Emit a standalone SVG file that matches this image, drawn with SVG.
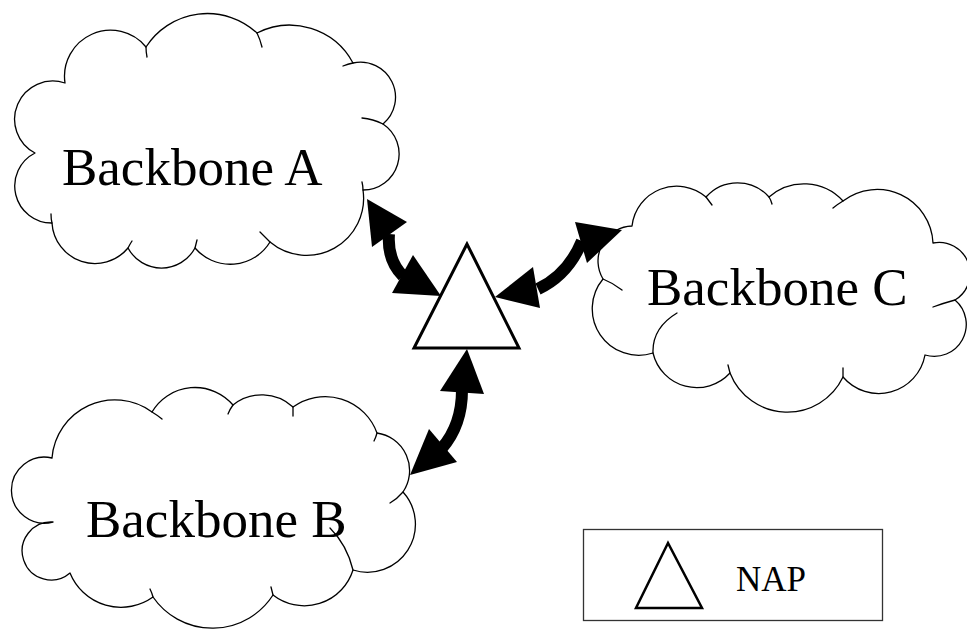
<svg xmlns="http://www.w3.org/2000/svg" width="967" height="630" viewBox="0 0 967 630">
  <style>
    .cloud { fill: #ffffff; stroke: #000000; stroke-width: 1.3; stroke-linejoin: round; }
    .stub { fill: none; stroke: #000000; stroke-width: 1.3; stroke-linecap: round; }
    .label { font-family: "Liberation Serif", "Times New Roman", serif; fill: #000000; }
    .big { font-size: 53px; }
    .nap { fill: #ffffff; stroke: #000000; stroke-width: 3; stroke-linejoin: miter; }
    .shaft { fill: none; stroke: #000000; stroke-width: 12; }
    .head { fill: #000000; stroke: none; }
  </style>

  <rect x="0" y="0" width="967" height="630" fill="#ffffff"/>

  <!-- Backbone A -->
  <g id="backbone-a">
    <path class="cloud" d="M65 83 A46 46 0 0 1 146 47 A73 73 0 0 1 257 33 A72 72 0 0 1 353 63 A35 35 0 0 1 383 124 A36 36 0 0 1 363 190 A57 57 0 0 1 270 242 A46.5 46.5 0 0 1 195 248 A38 38 0 0 1 128 248 A43 43 0 0 1 52 223 A37 37 0 0 1 35 153 A38.2 38.2 0 0 1 65 83 Z"/>
    <path class="stub" d="M146 47 q0 5 1 10 M257 33 q3 6 5 14 M353 63 q-5 1 -10 3 M383 124 q-10 -5 -21 -6 M363 190 q0 -4 -1 -8 M270 242 q-5 -5 -10 -10 M195 248 q1 -4 2 -8 M128 248 q2 -4 4 -7 M52 223 q-1 -4 -1 -9"/>
    <text class="label big" x="62" y="185">Backbone A</text>
  </g>

  <!-- Backbone B -->
  <g id="backbone-b">
    <path class="cloud" d="M52 458 A63 63 0 0 1 152 412 A50 50 0 0 1 233 405 A46 46 0 0 1 293 407 A55 55 0 0 1 377 433 A38 38 0 0 1 403 492 A48 48 0 0 1 353 570 A51 51 0 0 1 273 595 A72 72 0 0 1 153 597 A55 55 0 0 1 70 573 A29 29 0 1 1 53 522 A33 33 0 1 1 52 458 Z"/>
    <path class="stub" d="M152 412 q5 3 10 7 M233 405 q-3 4 -5 9 M293 407 q0 5 0 9 M377 433 q-1 4 -3 8 M403 492 q-6 7 -13 11 M353 570 Q347 545 330 528 M273 595 q-1 -4 -2 -8 M153 597 q-1 -4 -3 -8"/>
    <text class="label big" x="86" y="537">Backbone B</text>
  </g>

  <!-- Backbone C -->
  <g id="backbone-c">
    <path class="cloud" d="M632 226 A45 45 0 0 1 706 197 A42 42 0 0 1 769 197 A53 53 0 0 1 843 201 A56 56 0 0 1 933 243 A31 31 0 0 1 955 300 A32 32 0 0 1 925 355 A47 47 0 0 1 843 377 A61.6 61.6 0 0 1 730 373 A45 45 0 0 1 653 353 A46.5 46.5 0 0 1 603 279 A35 35 0 0 1 632 226 Z"/>
    <path class="stub" d="M706 197 q3 4 6 8 M769 197 q2 3 3 7 M843 201 q-5 3 -10 7 M955 300 q-11 3 -22 7 M843 377 q0 -4 0 -9 M730 373 q-1 -4 -2 -8 M653 353 Q652 328 677 313 M603 279 q10 4 19 11"/>
    <text class="label big" x="647" y="305">Backbone C</text>
  </g>

  <!-- NAP -->
  <g id="nap">
    <polygon class="nap" points="467,244 414,348 519,348"/>
  </g>

  <!-- Connectors -->
  <g id="connectors">
    <path class="shaft" d="M389 234 Q387 260 403 276"/>
    <polygon class="head" points="367,199 407,222 372,247"/>
    <polygon class="head" points="441,296 392,293 413,255"/>

    <path class="shaft" d="M538 289 Q568 275 582 241"/>
    <polygon class="head" points="495,297 533,267 540,308"/>
    <polygon class="head" points="622,230 575,222 587,263"/>

    <path class="shaft" d="M462 390 Q462 425 442 448"/>
    <polygon class="head" points="467,349 440,391 484,394"/>
    <polygon class="head" points="410,475 429,429 457,462"/>
  </g>

  <!-- Legend -->
  <g id="legend">
    <rect x="583.5" y="529.5" width="299" height="91" fill="#ffffff" stroke="#333333" stroke-width="1.3"/>
    <polygon points="668,543 636,608 702,608" fill="#ffffff" stroke="#000000" stroke-width="2.5"/>
    <text class="label" x="736" y="591" font-size="35">NAP</text>
  </g>
</svg>
